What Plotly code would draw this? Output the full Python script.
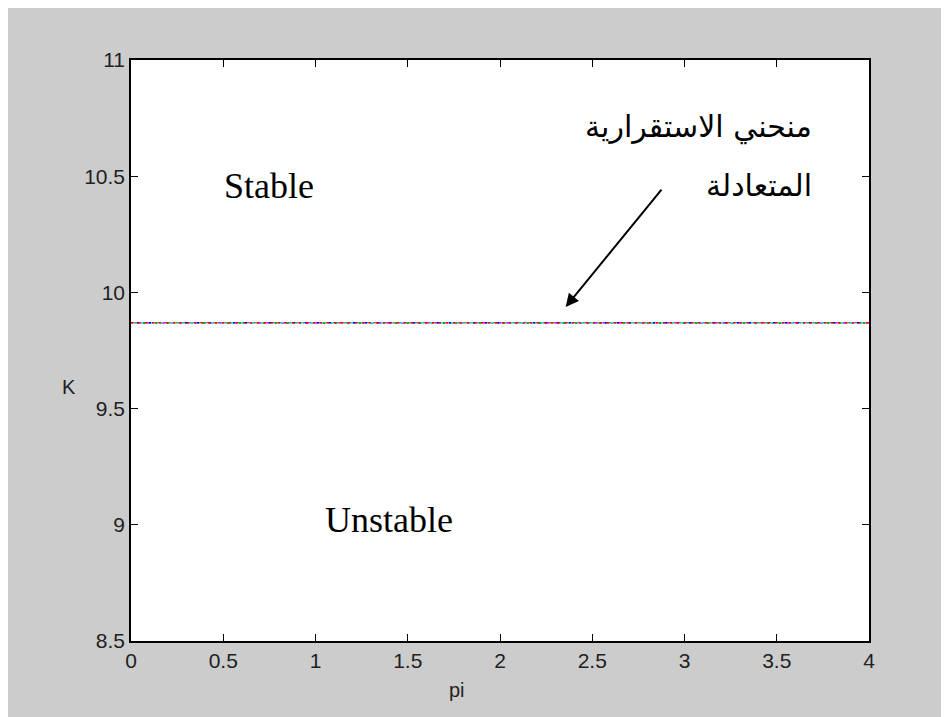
import plotly.graph_objects as go

# Data
pi_values = [0, 0.5, 1, 1.5, 2, 2.5, 3, 3.5, 4]
K_neutral = [9.8696, 9.8696, 9.8696, 9.8696, 9.8696, 9.8696, 9.8696, 9.8696, 9.8696]
series_colors = ["#808080", "#ff00ff", "#0000ff", "#00c000", "#00ffff", "#ffd000", "#ff0000"]
series_dashes = ["solid", "2px,6px", "2px,4px", "2px,10px", "2px,8px", "2px,12px", "2px,5px"]

x_ticks = [0, 0.5, 1, 1.5, 2, 2.5, 3, 3.5, 4]
x_tick_labels = ["0", "0.5", "1", "1.5", "2", "2.5", "3", "3.5", "4"]
y_ticks = [8.5, 9, 9.5, 10, 10.5, 11]
y_tick_labels = ["8.5", "9", "9.5", "10", "10.5", "11"]

fig = go.Figure()
for c, d in zip(series_colors, series_dashes):
    fig.add_trace(go.Scatter(x=pi_values, y=K_neutral, mode="lines",
                             line=dict(color=c, width=1.5, dash=d),
                             showlegend=False, hoverinfo="skip"))

tickfont = dict(family="Liberation Sans, Arial", size=21, color="#222")
axis_common = dict(showgrid=False, zeroline=False, ticks="inside", ticklen=7,
                   tickcolor="#000", linecolor="#000", linewidth=1.5, mirror="ticks",
                   showline=True, tickfont=tickfont)
fig.update_xaxes(range=[0, 4], tickvals=x_ticks, ticktext=x_tick_labels, **axis_common)
fig.update_yaxes(range=[8.5, 11], tickvals=y_ticks, ticktext=y_tick_labels, **axis_common)

serif = dict(family="Liberation Serif, Times New Roman", size=36, color="#000")
arab = dict(family="DejaVu Sans, Arial", size=30, color="#000")
fig.add_annotation(x=0.75, y=10.46, text="Stable", showarrow=False, font=serif)
fig.add_annotation(x=1.4, y=9.02, text="Unstable", showarrow=False, font=serif)
fig.add_annotation(x=3.70, y=10.71, text="منحني الاستقرارية", showarrow=False, font=arab,
                   xanchor="right")
fig.add_annotation(x=3.70, y=10.46, text="المتعادلة", showarrow=False, font=arab,
                   xanchor="right")
fig.add_annotation(x=2.356, y=9.937, ax=2.882, ay=10.449, axref="x", ayref="y",
                   text="", showarrow=True, arrowhead=2, arrowsize=1.3, arrowwidth=2,
                   arrowcolor="#000")

lab = dict(family="Liberation Sans, Arial", size=20, color="#222")
fig.add_annotation(xref="paper", yref="paper", x=-0.084, y=0.438, text="K",
                   showarrow=False, font=lab, xanchor="center", yanchor="middle")
fig.add_annotation(xref="paper", yref="paper", x=0.442, y=-0.084, text="pi",
                   showarrow=False, font=lab, xanchor="center", yanchor="middle")

fig.update_layout(width=949, height=717, paper_bgcolor="#cccccc", plot_bgcolor="#ffffff",
                  margin=dict(l=123, r=88, t=52, b=84))
fig.write_html("out.html")
